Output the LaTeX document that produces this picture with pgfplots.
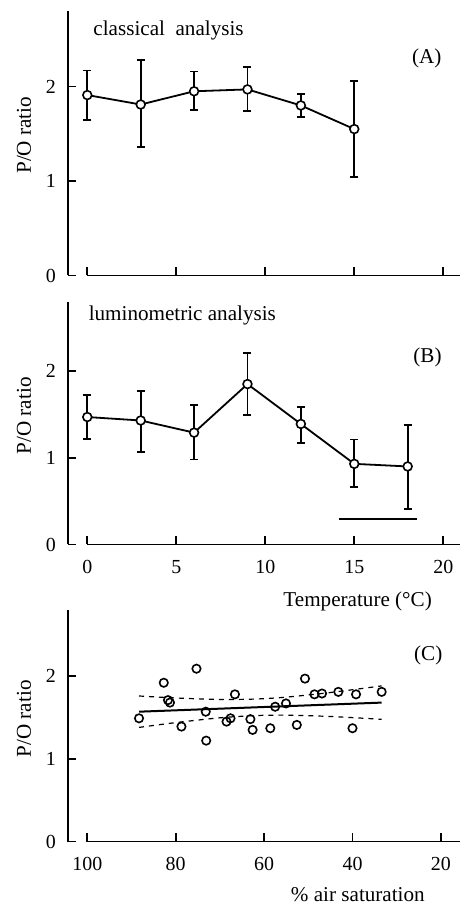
\documentclass[border=0pt]{standalone}
\usepackage{fontspec}
\setmainfont{Liberation Serif}
\usepackage{pgfplots}
\pgfplotsset{compat=1.18}
\usepackage{pgfplotstable}
\newcommand\lab{\fontsize{10.6}{12.7}\selectfont}

\pgfplotstableread{
x y ep em
0 1.91 0.26 0.26
3 1.81 0.47 0.45
6 1.95 0.21 0.20
9 1.97 0.24 0.23
12 1.80 0.12 0.12
15 1.55 0.51 0.51
}\dataA

\pgfplotstableread{
x y ep em
0 1.47 0.25 0.25
3 1.43 0.34 0.36
6 1.29 0.32 0.31
9 1.85 0.36 0.36
12 1.39 0.20 0.22
15 0.93 0.28 0.27
18 0.90 0.48 0.49
}\dataB

\pgfplotstableread{
air po
88.3 1.49
82.7 1.92
81.75 1.71
81.3 1.68
78.7 1.39
75.3 2.09
73.2 1.57
73.1 1.22
68.5 1.45
67.6 1.49
66.6 1.78
63.1 1.48
62.6 1.35
58.6 1.37
57.5 1.63
55.05 1.67
52.6 1.41
50.75 1.97
48.6 1.78
46.9 1.79
43.2 1.81
40.0 1.37
39.2 1.78
33.4 1.81
}\dataC

\pgfplotsset{
  panel/.style={
    scale only axis,
    width=196bp,
    axis lines=left,
    axis line style={-, line width=0.9bp},
    tick align=inside,
    major tick length=4bp,
    tick style={line width=0.9bp, black},
    ymin=0, ymax=2.8, ytick={0,1,2},
    /pgf/number format/assume math mode=true,
    tick label style={font=\fontsize{10}{12}\selectfont},
    yticklabel style={xshift=-2.5bp},
    xticklabel style={yshift=-4.5bp},
    clip=false,
    ylabel={P/O ratio},
    ylabel style={at={(axis description cs:-0.112,0.53)}, anchor=center, font=\lab},
  },
  series/.style={
    black, line width=0.9bp,
    mark=*, mark size=2.2bp,
    mark options={fill=white, line width=0.8bp},
    error bars/.cd, y dir=both, y explicit,
    error bar style={line width=0.9bp},
    error mark=-,
    error mark options={rotate=90, line width=0.9bp, mark size=2bp},
  },
}

\begin{document}
\begin{tikzpicture}
\useasboundingbox (0,0) rectangle (230bp,452.5bp);

% Panel A
\begin{axis}[panel,
  at={(34bp,314.75bp)}, anchor=south west,
  height=132.25bp,
  xmin=-1.084, xmax=20.94,
  xtick={0,5,10,15,20}, xticklabels={},
  x axis line style={shorten <=9.65bp},
]
\addplot+[series] table[x=x, y=y, y error plus=ep, y error minus=em] {\dataA};
\node[font=\lab, anchor=base west, inner sep=0pt] at (axis description cs:0.064,0.9055) {classical\ \ analysis};
\node[font=\lab, anchor=base, inner sep=0pt] at (axis description cs:0.915,0.80) {(A)};
\end{axis}

% Panel B
\begin{axis}[panel,
  at={(34bp,180.25bp)}, anchor=south west,
  height=121.4bp,
  xmin=-1.084, xmax=20.94,
  xtick={0,5,10,15,20},
  x axis line style={shorten <=9.65bp},
  xlabel={Temperature (°C)},
  xlabel style={at={(axis description cs:0.929,-0.256)}, anchor=base east, inner sep=0pt, font=\lab},
]
\addplot+[series] table[x=x, y=y, y error plus=ep, y error minus=em] {\dataB};
\addplot[black, line width=0.9bp, mark=none] coordinates {(14.16,0.295) (18.54,0.295)};
\node[font=\lab, anchor=base west, inner sep=0pt] at (axis description cs:0.052,0.922) {luminometric analysis};
\node[font=\lab, anchor=base, inner sep=0pt] at (axis description cs:0.917,0.750) {(B)};
\end{axis}

% Panel C
\begin{axis}[panel,
  at={(34bp,31.75bp)}, anchor=south west,
  height=115.75bp,
  x dir=reverse,
  xmin=15.68, xmax=104.37,
  xtick={20,40,60,80,100},
  x axis line style={shorten >=9.65bp},
  xlabel={\% air saturation},
  xlabel style={at={(axis description cs:0.911,-0.260)}, anchor=base east, inner sep=0pt, font=\lab},
]
\addplot[black, line width=0.6bp, dash pattern=on 2.5bp off 2.5bp, smooth] coordinates {
 (88.3,1.76) (80,1.736) (70,1.718) (62,1.723) (55,1.746) (45,1.802) (33.4,1.882)};
\addplot[black, line width=0.6bp, dash pattern=on 2.5bp off 2.5bp, smooth] coordinates {
 (88.3,1.38) (80,1.438) (70,1.496) (62,1.523) (55,1.528) (45,1.512) (33.4,1.478)};
\addplot[black, line width=1bp] coordinates {(88.3,1.57) (33.4,1.68)};
\addplot[black, only marks, mark=o, mark size=2.1bp, mark options={line width=0.8bp}] table[x=air, y=po] {\dataC};
\node[font=\lab, anchor=base, inner sep=0pt] at (axis description cs:0.919,0.784) {(C)};
\end{axis}
\end{tikzpicture}
\end{document}
